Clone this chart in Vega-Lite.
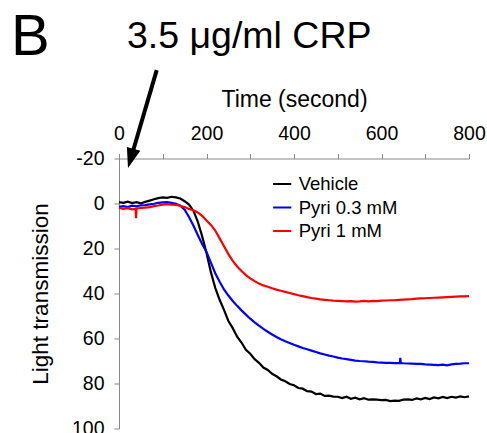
{
  "$schema": "https://vega.github.io/schema/vega-lite/v6.json",
  "width": 350,
  "height": 270,
  "autosize": {"type": "none"},
  "padding": {"left": 119, "top": 158.5, "right": 18, "bottom": 4.5},
  "config": {"font": "Liberation Sans", "view": {"stroke": null}},
  "encoding": {
    "x": {
      "field": "t", "type": "quantitative",
      "scale": {"domain": [0, 800], "nice": false, "zero": false},
      "axis": {
        "orient": "top", "values": [0, 100, 200, 300, 400, 500, 600, 700, 800],
        "labelExpr": "datum.value % 200 === 0 ? datum.label : ''",
        "title": "Time (second)", "titleFontSize": 23, "titleFontWeight": "normal", "titleColor": "#000",
        "labelFontSize": 19.5, "labelColor": "#000", "labelPadding": 10, "titlePadding": 12,
        "tickSize": 5, "tickColor": "#888", "domainColor": "#888", "grid": false,
        "labelFlush": false, "labelOverlap": false
      }
    },
    "y": {
      "field": "v", "type": "quantitative",
      "scale": {"domain": [-20, 100], "reverse": true, "nice": false, "zero": false},
      "axis": {
        "values": [-20, 0, 20, 40, 60, 80, 100],
        "labelExpr": "toString(datum.value)",
        "title": "Light transmission", "titleFontSize": 22.5, "titleFontWeight": "normal", "titleColor": "#000",
        "labelFontSize": 19.5, "labelColor": "#000", "labelPadding": 10, "titlePadding": 19,
        "tickSize": 5, "tickColor": "#888", "domainColor": "#888", "grid": false, "labelOverlap": false
      }
    }
  },
  "layer": [
    {
      "data": {"values": [
        {"t":0,"Vehicle":-0.6,"Pyri03":1.5,"Pyri1":2.0},
        {"t":10,"Vehicle":-0.3,"Pyri03":1.2,"Pyri1":2.4},
        {"t":20,"Vehicle":-0.8,"Pyri03":1.6,"Pyri1":2.1},
        {"t":30,"Vehicle":-0.2,"Pyri03":1.0,"Pyri1":2.6},
        {"t":38,"Pyri1":2.4},
        {"t":39,"Pyri1":6.5},
        {"t":40,"Vehicle":-0.6,"Pyri03":1.3,"Pyri1":2.2},
        {"t":50,"Vehicle":-0.1,"Pyri03":0.8,"Pyri1":2.0},
        {"t":60,"Vehicle":-0.7,"Pyri03":0.7,"Pyri1":1.8},
        {"t":70,"Vehicle":-1.3,"Pyri03":0.4,"Pyri1":1.6},
        {"t":80,"Vehicle":-1.9,"Pyri03":0.1,"Pyri1":1.2},
        {"t":90,"Vehicle":-2.4,"Pyri03":-0.3,"Pyri1":0.9},
        {"t":100,"Vehicle":-2.7,"Pyri03":-0.5,"Pyri1":0.5},
        {"t":110,"Vehicle":-2.5,"Pyri03":-0.6,"Pyri1":0.3},
        {"t":120,"Vehicle":-3.0,"Pyri03":-0.3,"Pyri1":0.5},
        {"t":130,"Vehicle":-2.7,"Pyri03":0.1,"Pyri1":0.6},
        {"t":140,"Vehicle":-2.2,"Pyri03":1.0,"Pyri1":1.0},
        {"t":150,"Vehicle":-1.0,"Pyri03":2.8,"Pyri1":1.6},
        {"t":160,"Vehicle":0.5,"Pyri03":6.0,"Pyri1":2.4},
        {"t":170,"Vehicle":3.2,"Pyri03":9.8,"Pyri1":3.0},
        {"t":180,"Vehicle":8.0,"Pyri03":14.0,"Pyri1":4.0},
        {"t":190,"Vehicle":14.5,"Pyri03":18.0,"Pyri1":5.5},
        {"t":200,"Vehicle":22.0,"Pyri03":21.5,"Pyri1":7.6},
        {"t":210,"Vehicle":30.5,"Pyri03":26.3,"Pyri1":9.5},
        {"t":220,"Vehicle":37.5,"Pyri03":31.0,"Pyri1":12.0},
        {"t":230,"Vehicle":42.8,"Pyri03":34.8,"Pyri1":15.5},
        {"t":240,"Vehicle":47.3,"Pyri03":38.2,"Pyri1":19.0},
        {"t":250,"Vehicle":52.2,"Pyri03":40.9,"Pyri1":22.5},
        {"t":260,"Vehicle":55.4,"Pyri03":43.3,"Pyri1":25.5},
        {"t":270,"Vehicle":59.2,"Pyri03":45.5,"Pyri1":28.0},
        {"t":280,"Vehicle":61.8,"Pyri03":47.5,"Pyri1":30.0},
        {"t":290,"Vehicle":65.0,"Pyri03":49.4,"Pyri1":31.8},
        {"t":300,"Vehicle":66.8,"Pyri03":51.2,"Pyri1":33.3},
        {"t":310,"Vehicle":69.2,"Pyri03":52.8,"Pyri1":34.5},
        {"t":320,"Vehicle":70.8,"Pyri03":54.3,"Pyri1":35.6},
        {"t":330,"Vehicle":72.9,"Pyri03":55.7,"Pyri1":36.4},
        {"t":340,"Vehicle":74.0,"Pyri03":57.0,"Pyri1":37.0},
        {"t":350,"Vehicle":75.7,"Pyri03":58.2,"Pyri1":37.7},
        {"t":360,"Vehicle":76.8,"Pyri03":59.3,"Pyri1":38.3},
        {"t":370,"Vehicle":78.2,"Pyri03":60.3,"Pyri1":38.8},
        {"t":380,"Vehicle":79.0,"Pyri03":61.2,"Pyri1":39.3},
        {"t":390,"Vehicle":80.2,"Pyri03":62.0,"Pyri1":39.8},
        {"t":400,"Vehicle":80.8,"Pyri03":62.8,"Pyri1":40.3},
        {"t":410,"Vehicle":82.0,"Pyri03":63.5,"Pyri1":40.8},
        {"t":420,"Vehicle":82.3,"Pyri03":64.2,"Pyri1":41.2},
        {"t":430,"Vehicle":83.4,"Pyri03":64.8,"Pyri1":41.6},
        {"t":440,"Vehicle":83.6,"Pyri03":65.4,"Pyri1":42.0},
        {"t":450,"Vehicle":84.7,"Pyri03":66.0,"Pyri1":42.3},
        {"t":460,"Vehicle":84.5,"Pyri03":66.6,"Pyri1":42.6},
        {"t":470,"Vehicle":85.5,"Pyri03":67.1,"Pyri1":42.8},
        {"t":480,"Vehicle":85.4,"Pyri03":67.6,"Pyri1":43.0},
        {"t":490,"Vehicle":85.8,"Pyri03":68.0,"Pyri1":43.2},
        {"t":500,"Vehicle":85.9,"Pyri03":68.5,"Pyri1":43.3},
        {"t":510,"Vehicle":86.5,"Pyri03":68.9,"Pyri1":43.4},
        {"t":520,"Vehicle":85.9,"Pyri03":69.2,"Pyri1":43.5},
        {"t":530,"Vehicle":86.8,"Pyri03":69.5,"Pyri1":43.4},
        {"t":540,"Vehicle":86.3,"Pyri03":69.8,"Pyri1":43.6},
        {"t":550,"Vehicle":87.0,"Pyri03":70.0,"Pyri1":43.5},
        {"t":560,"Vehicle":86.5,"Pyri03":70.1,"Pyri1":43.3},
        {"t":570,"Vehicle":87.2,"Pyri03":70.3,"Pyri1":43.5},
        {"t":580,"Vehicle":87.1,"Pyri03":70.4,"Pyri1":43.3},
        {"t":590,"Vehicle":87.2,"Pyri03":70.6,"Pyri1":43.4},
        {"t":600,"Vehicle":87.4,"Pyri03":70.7,"Pyri1":43.2},
        {"t":610,"Vehicle":87.3,"Pyri03":70.8,"Pyri1":43.1},
        {"t":620,"Vehicle":87.8,"Pyri03":70.8,"Pyri1":43.0},
        {"t":630,"Vehicle":87.6,"Pyri03":70.9,"Pyri1":43.0},
        {"t":640,"Vehicle":87.7,"Pyri03":70.9,"Pyri1":42.8},
        {"t":642,"Pyri03":70.9},
        {"t":643,"Pyri03":68.6},
        {"t":644,"Pyri03":70.9},
        {"t":650,"Vehicle":87.2,"Pyri03":71.0,"Pyri1":42.7},
        {"t":660,"Vehicle":87.1,"Pyri03":71.1,"Pyri1":42.6},
        {"t":670,"Vehicle":87.3,"Pyri03":71.2,"Pyri1":42.5},
        {"t":680,"Vehicle":86.6,"Pyri03":71.3,"Pyri1":42.3},
        {"t":690,"Vehicle":87.0,"Pyri03":71.3,"Pyri1":42.2},
        {"t":700,"Vehicle":86.4,"Pyri03":71.5,"Pyri1":42.1},
        {"t":710,"Vehicle":86.9,"Pyri03":71.6,"Pyri1":42.0},
        {"t":720,"Vehicle":86.2,"Pyri03":71.7,"Pyri1":41.9},
        {"t":730,"Vehicle":86.6,"Pyri03":71.8,"Pyri1":41.8},
        {"t":740,"Vehicle":86.0,"Pyri03":71.6,"Pyri1":41.7},
        {"t":750,"Vehicle":86.5,"Pyri03":71.9,"Pyri1":41.6},
        {"t":760,"Vehicle":85.9,"Pyri03":71.5,"Pyri1":41.5},
        {"t":770,"Vehicle":86.3,"Pyri03":71.3,"Pyri1":41.4},
        {"t":780,"Vehicle":85.7,"Pyri03":71.2,"Pyri1":41.3},
        {"t":790,"Vehicle":86.1,"Pyri03":71.0,"Pyri1":41.3},
        {"t":800,"Vehicle":85.7,"Pyri03":71.0,"Pyri1":41.2}
      ]},
      "transform": [
        {"fold": ["Vehicle", "Pyri03", "Pyri1"], "as": ["series", "v"]},
        {"filter": "isValid(datum.v)"}
      ],
      "mark": {"type": "line", "strokeWidth": 2.2},
      "encoding": {
        "color": {
          "field": "series", "type": "nominal",
          "scale": {"domain": ["Vehicle", "Pyri03", "Pyri1"], "range": ["#000000", "#0000ff", "#ff0000"]},
          "legend": {
            "orient": "none", "legendX": 152.7, "legendY": 15, "title": null,
            "symbolType": "stroke", "symbolSize": 330, "symbolStrokeWidth": 2,
            "labelFontSize": 18.5, "labelColor": "#000", "labelOffset": 6, "rowPadding": 3.5, "padding": 0,
            "labelExpr": "datum.label == 'Pyri03' ? 'Pyri 0.3 mM' : datum.label == 'Pyri1' ? 'Pyri 1 mM' : datum.label"
          }
        }
      }
    },
    {
      "data": {"values": [{"t": 86.2, "v": -59.3, "t2": 27, "v2": -20}]},
      "mark": {"type": "rule", "strokeWidth": 4, "color": "#000"},
      "encoding": {"x2": {"field": "t2"}, "y2": {"field": "v2"}}
    },
    {
      "data": {"values": [{"t": 27, "v": -20}]},
      "mark": {"type": "point", "shape": "M0,1L-0.7,-1L0.7,-1Z", "size": 400, "filled": true, "color": "#000", "opacity": 1, "angle": 16.3, "strokeWidth": 0}
    },
    {
      "data": {"values": [{"t": -246.9, "v": -66, "label": "B"}]},
      "mark": {"type": "text", "align": "left", "baseline": "alphabetic", "fontSize": 58, "color": "#000"},
      "encoding": {"text": {"field": "label"}}
    },
    {
      "data": {"values": [{"t": 297.6, "v": -69, "label": "3.5 μg/ml CRP"}]},
      "mark": {"type": "text", "align": "center", "baseline": "alphabetic", "fontSize": 37.5, "color": "#000"},
      "encoding": {"text": {"field": "label"}}
    }
  ]
}
